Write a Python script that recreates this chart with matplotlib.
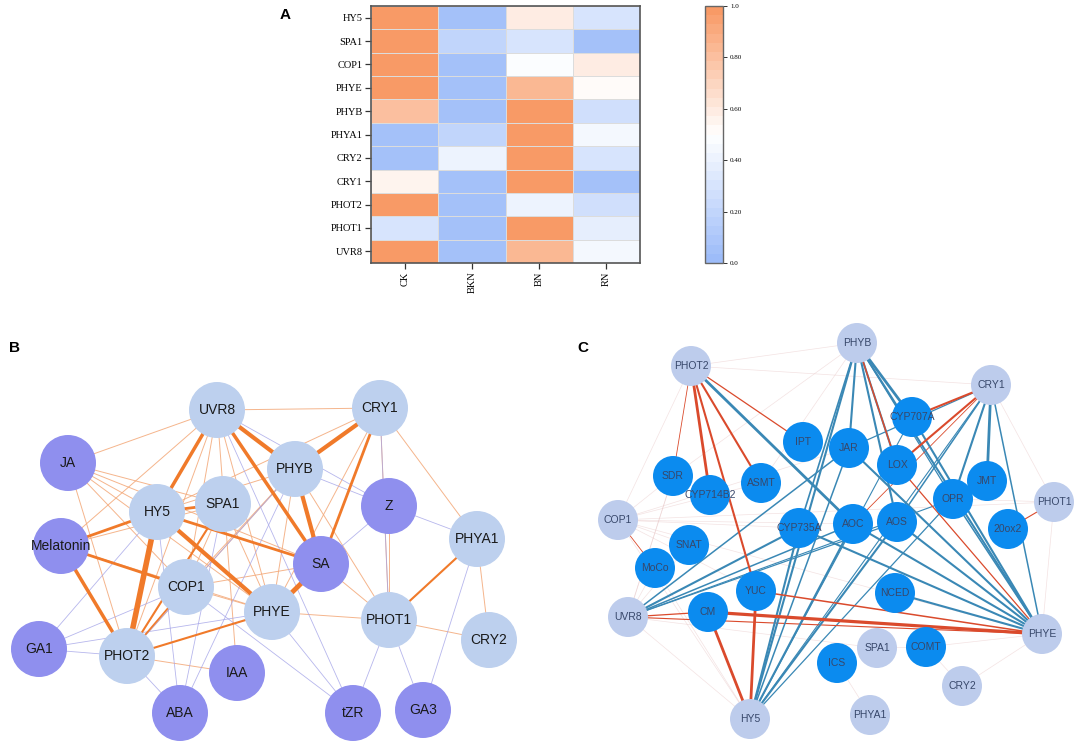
import numpy as np
import matplotlib
matplotlib.use("Agg")
import matplotlib.pyplot as plt
from matplotlib.colors import LinearSegmentedColormap
from matplotlib.patches import Circle

# ── 数据 ─────────────────────────────────────────────────────────────────────
genes = ["HY5", "SPA1", "COP1", "PHYE", "PHYB", "PHYA1", "CRY2", "CRY1", "PHOT2", "PHOT1", "UVR8"]
treatments = ["CK", "BKN", "BN", "RN"]
expr = np.array([
    [1.00, 0.05, 0.60, 0.30],
    [1.00, 0.20, 0.30, 0.05],
    [1.00, 0.05, 0.48, 0.60],
    [1.00, 0.05, 0.85, 0.50],
    [0.80, 0.05, 1.00, 0.25],
    [0.05, 0.20, 1.00, 0.45],
    [0.05, 0.42, 1.00, 0.30],
    [0.55, 0.05, 1.00, 0.05],
    [1.00, 0.05, 0.40, 0.25],
    [0.30, 0.05, 1.00, 0.38],
    [1.00, 0.05, 0.85, 0.45],
])
cbar_ticks = [0.0, 0.2, 0.4, 0.6, 0.8, 1.0]
cbar_labels = ["0.0", "0.20", "0.40", "0.60", "0.80", "1.0"]

# 网络 B: 节点 (名称, x, y, 类型)  —— 像素坐标
b_nodes = [
    ("UVR8", 217, 410, "g"), ("CRY1", 380, 408, "g"), ("JA", 68, 463, "h"),
    ("PHYB", 295, 469, "g"), ("HY5", 157, 512, "g"), ("SPA1", 223, 504, "g"),
    ("Z", 389, 506, "h"), ("PHYA1", 477, 539, "g"), ("Melatonin", 61, 546, "h"),
    ("SA", 321, 564, "h"), ("COP1", 186, 587, "g"), ("PHYE", 272, 612, "g"),
    ("PHOT1", 389, 620, "g"), ("CRY2", 489, 640, "g"), ("GA1", 39, 649, "h"),
    ("PHOT2", 127, 656, "g"), ("IAA", 237, 673, "h"), ("ABA", 180, 713, "h"),
    ("tZR", 353, 713, "h"), ("GA3", 423, 710, "h"),
]
b_edges = [
    ("UVR8", "HY5", "o", 2.5), ("UVR8", "PHYB", "o", 3), ("UVR8", "SA", "o", 2.5),
    ("CRY1", "PHYB", "o", 3), ("CRY1", "SA", "o", 2), ("PHYB", "SA", "o", 3),
    ("HY5", "PHOT2", "o", 4), ("HY5", "PHYE", "o", 3), ("HY5", "SA", "o", 2),
    ("HY5", "Melatonin", "o", 2), ("HY5", "SPA1", "o", 2), ("Melatonin", "PHOT2", "o", 2.5),
    ("Melatonin", "COP1", "o", 2), ("SA", "PHYE", "o", 3.5), ("PHYA1", "PHOT1", "o", 1.5),
    ("PHOT2", "PHYE", "o", 1.5), ("PHOT2", "SPA1", "o", 1.5), ("PHOT2", "COP1", "o", 1.2),
    ("UVR8", "CRY1", "t", 0.7), ("UVR8", "JA", "t", 0.7), ("UVR8", "Melatonin", "t", 0.7),
    ("UVR8", "COP1", "t", 0.7), ("UVR8", "PHYE", "t", 0.7), ("UVR8", "PHOT2", "t", 0.7),
    ("UVR8", "IAA", "t", 0.7), ("JA", "HY5", "t", 0.7), ("JA", "SPA1", "t", 0.7),
    ("JA", "COP1", "t", 0.7), ("JA", "PHYE", "t", 0.7), ("JA", "PHOT2", "t", 0.7),
    ("JA", "SA", "t", 0.7), ("CRY1", "PHYA1", "t", 0.7), ("CRY1", "PHOT1", "t", 0.7),
    ("CRY1", "HY5", "t", 0.7), ("CRY1", "PHYE", "t", 0.7), ("PHYB", "HY5", "t", 0.7),
    ("PHYB", "COP1", "t", 0.7), ("PHYB", "PHOT2", "t", 0.7), ("PHYB", "PHOT1", "t", 0.7),
    ("PHYB", "PHYE", "t", 0.7), ("SPA1", "Melatonin", "t", 0.7), ("SPA1", "PHYE", "t", 0.7),
    ("SPA1", "COP1", "t", 0.7), ("COP1", "SA", "t", 0.7), ("COP1", "PHYE", "t", 0.7),
    ("PHYE", "PHOT1", "t", 0.7), ("PHOT1", "CRY2", "t", 0.7), ("PHYA1", "CRY2", "t", 0.7),
    ("Z", "PHOT1", "t", 0.7), ("PHOT2", "IAA", "t", 0.7), ("SA", "PHOT1", "t", 0.7),
    ("Melatonin", "PHYE", "t", 0.7),
    ("UVR8", "Z", "p", 0.6), ("PHYB", "Z", "p", 0.6), ("Z", "SA", "p", 0.6),
    ("Z", "PHYA1", "p", 0.6), ("CRY1", "PHOT1", "p", 0.6), ("HY5", "GA1", "p", 0.6),
    ("GA1", "PHOT2", "p", 0.6), ("GA1", "COP1", "p", 0.6), ("GA1", "PHYE", "p", 0.6),
    ("PHOT2", "ABA", "p", 0.6), ("ABA", "SPA1", "p", 0.6), ("ABA", "HY5", "p", 0.6),
    ("ABA", "PHYB", "p", 0.6), ("COP1", "tZR", "p", 0.6), ("PHYE", "tZR", "p", 0.6),
    ("UVR8", "tZR", "p", 0.6), ("PHOT1", "tZR", "p", 0.6), ("PHOT1", "GA3", "p", 0.6),
    ("PHYA1", "GA3", "p", 0.6), ("PHYB", "PHOT2", "p", 0.6),
]

# 网络 C
c_nodes = [
    ("PHYB", 857, 343, "g"), ("PHOT2", 691, 366, "g"), ("CRY1", 991, 385, "g"),
    ("CYP707A", 912, 417, "e"), ("IPT", 803, 442, "e"), ("JAR", 849, 448, "e"),
    ("LOX", 897, 465, "e"), ("SDR", 673, 476, "e"), ("ASMT", 761, 483, "e"),
    ("CYP714B2", 710, 495, "e"), ("JMT", 987, 481, "e"), ("OPR", 953, 499, "e"),
    ("PHOT1", 1054, 502, "g"), ("COP1", 618, 520, "g"), ("CYP735A", 799, 528, "e"),
    ("AOC", 853, 524, "e"), ("AOS", 897, 522, "e"), ("20ox2", 1008, 529, "e"),
    ("SNAT", 689, 545, "e"), ("MoCo", 655, 568, "e"), ("YUC", 756, 591, "e"),
    ("NCED", 895, 593, "e"), ("CM", 708, 612, "e"), ("UVR8", 628, 617, "g"),
    ("PHYE", 1042, 634, "g"), ("SPA1", 877, 648, "g"), ("COMT", 926, 647, "e"),
    ("ICS", 837, 663, "e"), ("CRY2", 962, 686, "g"), ("PHYA1", 870, 715, "g"),
    ("HY5", 750, 719, "g"),
]
c_edges = [
    ("COP1", "PHOT1", "f", 0.5), ("COP1", "CYP735A", "f", 0.5), ("COP1", "SNAT", "f", 0.5),
    ("COP1", "SDR", "f", 0.5), ("COP1", "AOC", "f", 0.5), ("COP1", "ASMT", "f", 0.5),
    ("UVR8", "SNAT", "f", 0.5), ("UVR8", "MoCo", "f", 0.5), ("PHOT2", "PHYB", "f", 0.5),
    ("PHOT2", "CRY1", "f", 0.5), ("PHOT2", "COP1", "f", 0.5), ("PHYB", "ASMT", "f", 0.5),
    ("PHYB", "SDR", "f", 0.5), ("CRY1", "PHOT1", "f", 0.5), ("PHOT1", "PHYE", "f", 0.5),
    ("PHOT1", "OPR", "f", 0.5), ("CRY2", "PHYE", "f", 0.5), ("CRY2", "COMT", "f", 0.5),
    ("PHYA1", "ICS", "f", 0.5), ("SPA1", "COMT", "f", 0.5), ("SPA1", "UVR8", "f", 0.5),
    ("HY5", "MoCo", "f", 0.5), ("COMT", "PHYE", "f", 0.5), ("HY5", "COP1", "f", 0.5),
    ("UVR8", "HY5", "f", 0.5), ("COP1", "PHYE", "f", 0.5), ("SDR", "UVR8", "f", 0.5),
    ("COP1", "YUC", "f", 0.5), ("UVR8", "SDR", "f", 0.5), ("COP1", "JAR", "f", 0.5),
    ("PHOT1", "20ox2", "r", 0.8), ("COP1", "MoCo", "r", 0.6), ("PHOT2", "SDR", "r", 0.6),
    ("PHYB", "CYP707A", "b", 2.0), ("PHYB", "LOX", "b", 1.5), ("PHYB", "AOS", "b", 1.5),
    ("PHYB", "JAR", "b", 1.5), ("PHYB", "HY5", "b", 1.5), ("PHYB", "PHYE", "b", 1.5),
    ("PHYB", "OPR", "b", 0.9), ("PHYB", "CYP735A", "b", 1.2),
    ("CRY1", "JMT", "b", 2.0), ("CRY1", "OPR", "b", 1.5), ("CRY1", "PHYE", "b", 1.1),
    ("CRY1", "HY5", "b", 0.8), ("CRY1", "AOS", "b", 1.1), ("CRY1", "JAR", "b", 0.9),
    ("PHOT2", "AOC", "b", 2.0), ("HY5", "CYP735A", "b", 1.5), ("HY5", "AOC", "b", 1.5),
    ("HY5", "AOS", "b", 1.5), ("HY5", "JAR", "b", 1.1), ("HY5", "OPR", "b", 0.9),
    ("HY5", "CYP707A", "b", 0.8), ("UVR8", "JAR", "b", 1.1), ("UVR8", "CYP735A", "b", 1.5),
    ("UVR8", "AOC", "b", 1.1), ("UVR8", "AOS", "b", 0.9), ("UVR8", "OPR", "b", 0.8),
    ("PHYE", "JAR", "b", 1.5), ("PHYE", "AOC", "b", 1.5), ("PHYE", "AOS", "b", 1.5),
    ("PHYE", "NCED", "b", 1.5), ("PHYE", "CYP735A", "b", 1.5), ("PHYE", "OPR", "b", 1.1),
    ("PHYE", "CYP707A", "b", 1.5),
    ("PHOT2", "CYP714B2", "r", 2.0), ("PHOT2", "ASMT", "r", 1.5), ("PHOT2", "YUC", "r", 1.5),
    ("PHOT2", "IPT", "r", 0.9), ("CRY1", "CYP707A", "r", 1.5), ("CRY1", "LOX", "r", 1.5),
    ("CRY1", "AOC", "r", 0.6), ("PHYB", "LOX", "r", 1.1), ("HY5", "CM", "r", 2.0),
    ("HY5", "YUC", "r", 2.0), ("UVR8", "CM", "r", 0.9), ("CM", "PHYE", "r", 2.3),
    ("YUC", "PHYE", "r", 1.1), ("UVR8", "PHYE", "r", 0.8), ("LOX", "PHYE", "r", 0.9),
]

# ── 画布 ─────────────────────────────────────────────────────────────────────
W, H = 1084, 754
fig = plt.figure(figsize=(W / 100, H / 100), dpi=100)
fig.patch.set_facecolor("white")

bg = fig.add_axes([0, 0, 1, 1])
bg.set_xlim(0, W)
bg.set_ylim(H, 0)
bg.axis("off")

SANS = ["Liberation Sans", "DejaVu Sans"]
SERIF = ["Liberation Serif", "DejaVu Serif"]

# ── A: 热图 ──────────────────────────────────────────────────────────────────
cmap = LinearSegmentedColormap.from_list(
    "bwo", ["#9DBCF9", "#FFFFFF", "#F89A66"], N=28)

hx0, hx1, hy0, hy1 = 371, 640, 6, 263
axh = fig.add_axes([hx0 / W, 1 - hy1 / H, (hx1 - hx0) / W, (hy1 - hy0) / H])
axh.pcolormesh(expr, cmap=cmap, vmin=0, vmax=1, edgecolors="#dcdcdc", linewidth=0.6)
axh.set_xlim(0, len(treatments))
axh.set_ylim(len(genes), 0)
axh.set_yticks(np.arange(len(genes)) + 0.5)
axh.set_yticklabels(genes, fontsize=7.5, family=SERIF)
axh.set_xticks(np.arange(len(treatments)) + 0.5)
axh.set_xticklabels(treatments, fontsize=7.5, family=SERIF, rotation=90)
axh.tick_params(length=4, width=0.9, color="#333333", pad=2)
for s in axh.spines.values():
    s.set_color("#555555")
    s.set_linewidth(1.2)

cx0, cx1 = 705, 723
cax = fig.add_axes([cx0 / W, 1 - hy1 / H, (cx1 - cx0) / W, (hy1 - hy0) / H])
sm = plt.cm.ScalarMappable(cmap=cmap, norm=plt.Normalize(0, 1))
cb = fig.colorbar(sm, cax=cax, ticks=cbar_ticks)
cb.ax.set_yticklabels(cbar_labels, fontsize=5, family=SERIF)
cb.ax.tick_params(length=3, width=0.7, color="#333333", pad=2)
cb.outline.set_edgecolor("#666666")
cb.outline.set_linewidth(1.0)

fig.text(285 / W, 1 - 15 / H, "A", fontsize=11, fontweight="bold", family=SANS,
         ha="center", va="center")

# ── 网络绘制 ─────────────────────────────────────────────────────────────────
def draw_net(nodes, edges, edge_colors, node_colors, radius, fsize, tcolor):
    pos = {n: (x, y) for n, x, y, _ in nodes}
    for a, b, k, w in edges:
        (x1, y1), (x2, y2) = pos[a], pos[b]
        col, alpha = edge_colors[k]
        bg.plot([x1, x2], [y1, y2], color=col, lw=w, alpha=alpha,
                solid_capstyle="round", zorder=1 + (w > 1))
    for n, x, y, kind in nodes:
        bg.add_patch(Circle((x, y), radius[kind], facecolor=node_colors[kind],
                            edgecolor="none", zorder=5))
        bg.text(x, y, n, ha="center", va="center", fontsize=fsize, color=tcolor,
                family=SANS, zorder=6)

draw_net(b_nodes, b_edges,
         {"o": ("#F07A2A", 1.0), "t": ("#F3A878", 0.85), "p": ("#A4A4E8", 0.8)},
         {"g": "#BDD0EE", "h": "#8F8FEE"},
         {"g": 28, "h": 28}, 10, "#1a1a1a")
fig.text(14 / W, 1 - 348 / H, "B", fontsize=11, fontweight="bold", family=SANS,
         ha="center", va="center")

draw_net(c_nodes, c_edges,
         {"b": ("#3A88B5", 1.0), "r": ("#DA4A2C", 1.0), "f": ("#E8C6C6", 0.5)},
         {"g": "#BDCCEC", "e": "#0B8BEF"},
         {"g": 20, "e": 20}, 7.5, "#37476A")
fig.text(583 / W, 1 - 348 / H, "C", fontsize=11, fontweight="bold", family=SANS,
         ha="center", va="center")

plt.savefig("out.png", dpi=100)
plt.close()
